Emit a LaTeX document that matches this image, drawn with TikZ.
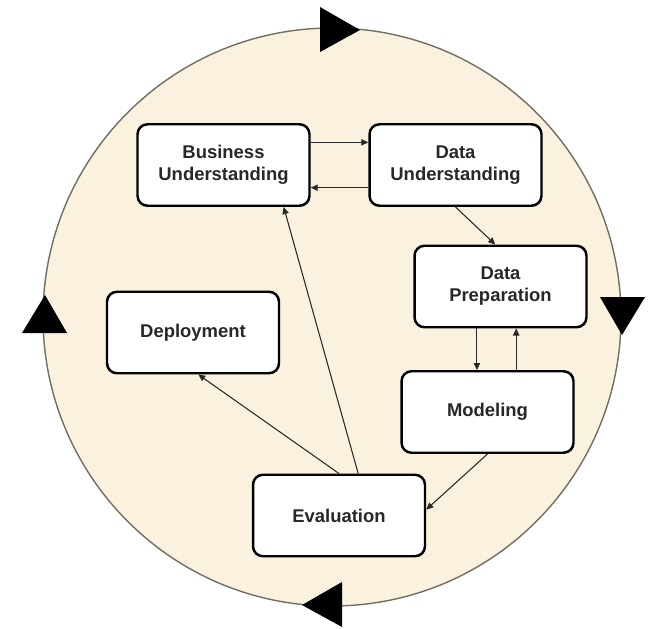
\documentclass[tikz,border=0pt]{standalone}
\usepackage{xcolor}
\usepackage{fontspec}
\setmainfont{Liberation Sans}
\usepackage{tikz}
\usetikzlibrary{arrows.meta,calc}

\definecolor{ringfill}{RGB}{250,241,223}
\definecolor{ringline}{RGB}{115,110,100}
\definecolor{inkgray}{RGB}{40,40,40}

\begin{document}
\begin{tikzpicture}[x=0.02cm, y=-0.02cm,
        phase/.style={rectangle, rounded corners=0.2cm, draw=black, line width=1.4pt,
        fill=white, text=inkgray, align=center, minimum width=3.44cm,
        minimum height=1.63cm, font=\fontsize{10.5}{12.5}\selectfont\bfseries},
        flow/.style={-{Triangle[length=4pt,width=3.6pt]}, draw=inkgray, line width=0.6pt}]
        \useasboundingbox (0,0) rectangle (648,628);

        % outer cycle
        \draw[ringline, fill=ringfill, line width=0.8pt] (332,317) circle (289*0.02cm);
        \fill (320,7) -- (360,30) -- (320,52) -- cycle;
        \fill (600,297) -- (645,297) -- (622,335) -- cycle;
        \fill (342,582) -- (302,605) -- (342,627) -- cycle;
        \fill (22,333) -- (45,295) -- (67,333) -- cycle;

        \node[phase] (BU) at (223.5,165) {Business\\Understanding};
        \node[phase] (DU) at (455.5,165) {Data\\Understanding};
        \node[phase] (DP) at (500.5,286.5) {Data\\Preparation};
        \node[phase] (Dep) at (193,332.5) {Deployment};
        \node[phase] (Mod) at (487.5,412) {Modeling};
        \node[phase] (Ev) at (339,515.5) {Evaluation};

        \coordinate (dp1) at ($(DP.south west)!.365!(DP.south east)$);
        \coordinate (dp2) at ($(DP.south west)!.59!(DP.south east)$);

        \draw[flow] ($(BU.north east)!.23!(BU.south east)$) -- ($(DU.north west)!.23!(DU.south west)$);
        \draw[flow] ($(DU.north west)!.77!(DU.south west)$) -- ($(BU.north east)!.77!(BU.south east)$);
        \draw[flow] (DU.south) -- ($(DP.north west)!.47!(DP.north east)$);
        \draw[flow] (dp1) -- (dp1 |- Mod.north);
        \draw[flow] (dp2 |- Mod.north) -- (dp2);
        \draw[flow] (Mod.south) -- ($(Ev.north east)!.43!(Ev.south east)$);
        \draw[flow] (Ev.north) -- ($(Dep.south west)!.53!(Dep.south east)$);
        \draw[flow] ($(Ev.north west)!.61!(Ev.north east)$) -- ($(BU.south west)!.845!(BU.south east)$);
    \end{tikzpicture}
\end{document}
